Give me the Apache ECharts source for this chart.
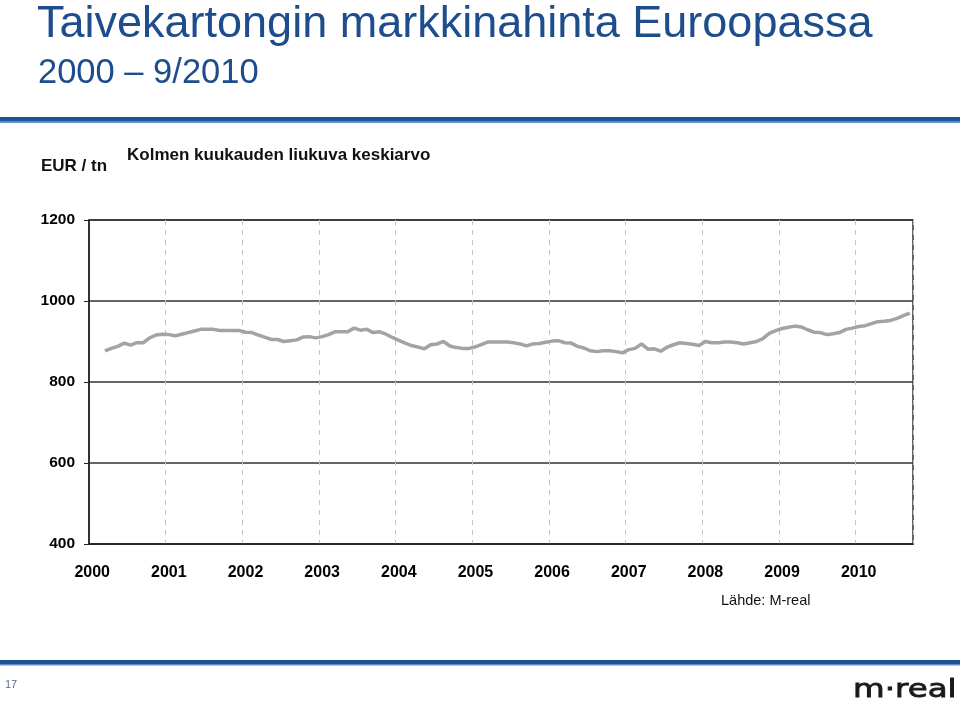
<!DOCTYPE html>
<html>
<head>
<meta charset="utf-8">
<script src="https://cdn.jsdelivr.net/npm/echarts@6/dist/echarts.min.js"></script>
<style>
html,body{margin:0;padding:0;background:#fff;}
#chart{width:960px;height:706px;}
</style>
</head>
<body>
<div id="chart"></div>
<script>
// Monthly categories Jan 2000 .. Sep 2010
const years = [2000,2001,2002,2003,2004,2005,2006,2007,2008,2009,2010];
const months = [];
years.forEach(y => { for (let m = 1; m <= 12; m++) { if (y === 2010 && m > 9) break; months.push(y + '-' + (m < 10 ? '0' + m : m)); } });

// Three-month moving average, EUR / tn (first value March 2000)
const priceValues = [
  null, null,
  877, 883, 888, 896, 891, 897, 897, 909, 916, 918,
  917, 914, 918, 922, 926, 930, 930, 930, 927, 927, 927, 927,
  923, 922, 916, 911, 905, 905, 900, 902, 904, 911, 912, 909,
  912, 917, 924, 924, 924, 933, 928, 930, 922, 924, 918, 910,
  903, 896, 890, 886, 882, 892, 894, 900, 889, 885, 883, 883,
  887, 893, 899, 899, 899, 899, 897, 894, 889, 894, 895, 898,
  901, 902, 897, 896, 888, 884, 877, 875, 877, 877, 875, 872,
  880, 883, 894, 881, 882, 876, 886, 892, 897, 895, 893, 890,
  900, 897, 897, 899, 899, 897, 894, 897, 900, 907, 920, 927,
  932, 935, 938, 936, 929, 923, 922, 917, 919, 922, 930, 933,
  937, 939, 944, 949, 950, 952, 957, 964, 970
];

const yTicks = [400, 600, 800, 1000, 1200];

const titleText = 'Taivekartongin markkinahinta Euroopassa';
const subtitleText = '2000 \u2013 9/2010';
const unitText = 'EUR / tn';
const noteText = 'Kolmen kuukauden liukuva keskiarvo';
const sourceText = 'L\u00e4hde: M-real';
const pageText = '17';
const logoText = 'm\u00b7real';

const FONT = '"Liberation Sans", Arial, Helvetica, sans-serif';
const BLUE = '#1d4d8c';

const chart = echarts.init(document.getElementById('chart'), null, {renderer: 'canvas'});
chart.setOption({
  animation: false,
  backgroundColor: '#ffffff',
  grid: {left: 89, right: 47, top: 220, bottom: 162, show: true, borderColor: '#333', borderWidth: 1.5, containLabel: false},
  xAxis: {
    type: 'category',
    data: months,
    boundaryGap: true,
    axisLine: {show: true, lineStyle: {color: '#222', width: 1.5}},
    axisTick: {show: false},
    axisLabel: {
      interval: (i) => i % 12 === 0,
      formatter: (v) => v.slice(0, 4),
      color: '#000', fontFamily: FONT, fontWeight: 'bold', fontSize: 16, margin: 21
    },
    splitLine: {show: true, interval: (i) => i % 12 === 0 && i > 0, lineStyle: {color: '#c4c4c4', type: [5, 5], width: 1}}
  },
  yAxis: {
    type: 'value',
    min: yTicks[0], max: yTicks[yTicks.length - 1], interval: 200,
    axisLine: {show: true, lineStyle: {color: '#222', width: 1.5}},
    axisTick: {show: true, length: 5, lineStyle: {color: '#222'}},
    axisLabel: {color: '#000', fontFamily: FONT, fontWeight: 'bold', fontSize: 15.5, margin: 14, formatter: (v) => String(v)},
    splitLine: {show: true, lineStyle: {color: '#333', width: 1.5}}
  },
  series: [{
    type: 'line',
    data: priceValues,
    showSymbol: false,
    symbol: 'none',
    lineStyle: {color: '#a3a3a3', width: 3.5},
    connectNulls: false
  }],
  graphic: [
    {type: 'text', x: 37, y: 25, style: {text: titleText, font: '45px ' + FONT, fill: BLUE, verticalAlign: 'middle'}},
    {type: 'text', x: 38, y: 73, style: {text: subtitleText, font: '34.5px ' + FONT, fill: BLUE, verticalAlign: 'middle'}},
    {type: 'rect', shape: {x: 0, y: 117, width: 960, height: 4}, style: {fill: '#1c5393'}},
    {type: 'rect', shape: {x: 0, y: 121, width: 960, height: 2}, style: {fill: '#5f8fc4'}},
    {type: 'text', x: 41, y: 166, style: {text: unitText, font: 'bold 17px ' + FONT, fill: '#111', verticalAlign: 'middle'}},
    {type: 'text', x: 127, y: 155, style: {text: noteText, font: 'bold 17px ' + FONT, fill: '#111', verticalAlign: 'middle'}},
    {type: 'text', x: 721, y: 601, style: {text: sourceText, font: '14.5px ' + FONT, fill: '#111', verticalAlign: 'middle'}},
    {type: 'rect', shape: {x: 0, y: 660, width: 960, height: 4}, style: {fill: '#1c5393'}},
    {type: 'rect', shape: {x: 0, y: 664, width: 960, height: 1.5}, style: {fill: '#5f8fc4'}},
    {type: 'text', x: 5, y: 685, style: {text: pageText, font: '11px ' + FONT, fill: '#5a6f94', verticalAlign: 'middle'}},
    {type: 'text', x: 853, y: 690, scaleX: 1.3, originX: 0, originY: 0, style: {text: logoText, font: '25px "DejaVu Sans", sans-serif', fill: '#1a1a1a', verticalAlign: 'middle', lineWidth: 0.8, stroke: '#1a1a1a'}}
  ]
});
</script>
</body>
</html>
